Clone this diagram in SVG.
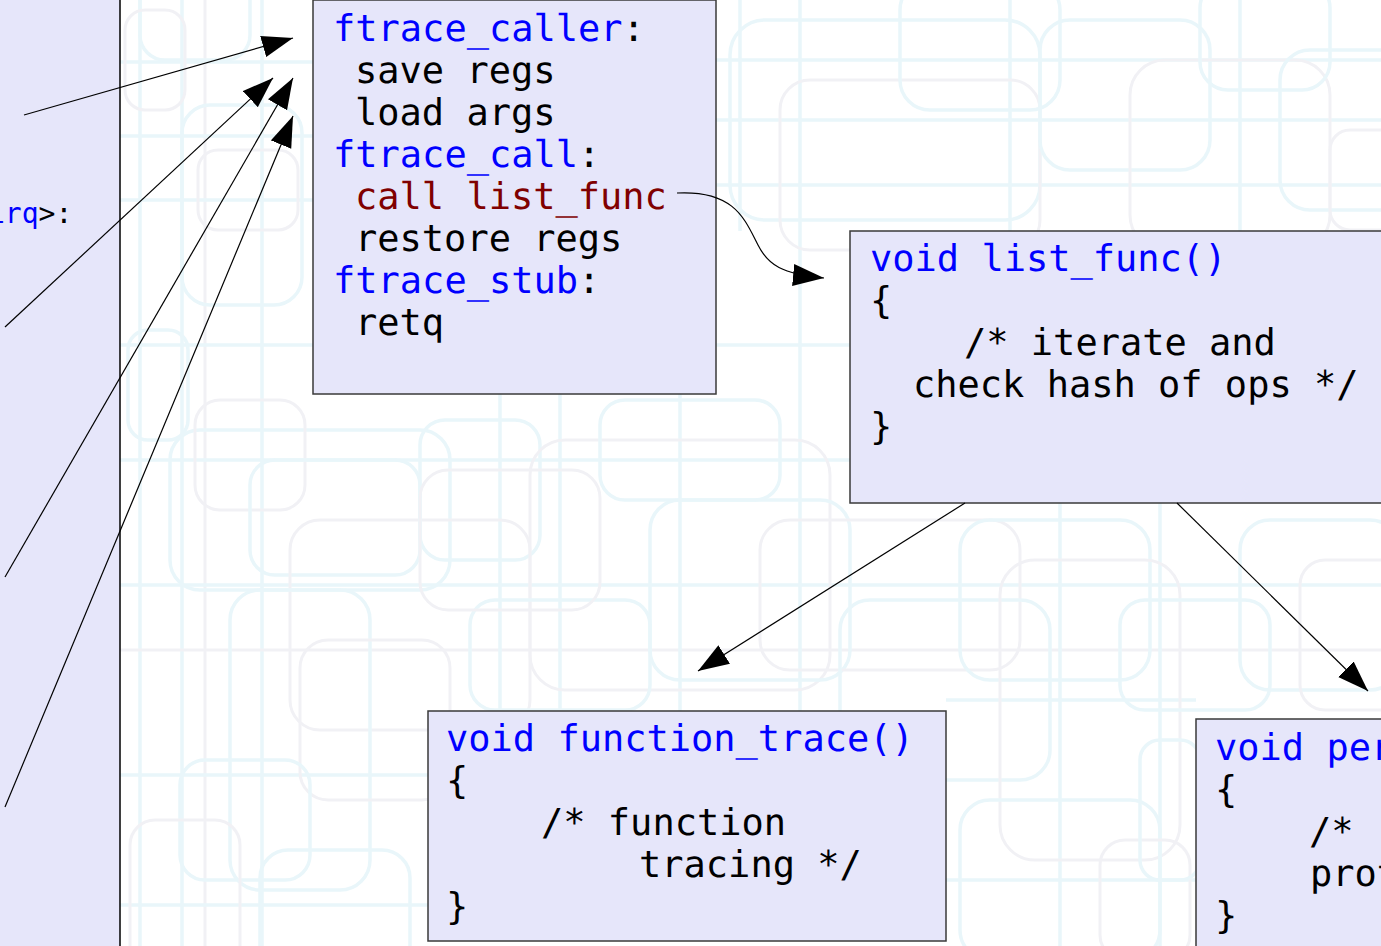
<svg xmlns="http://www.w3.org/2000/svg" width="1381" height="946" viewBox="0 0 1381 946">
  <style>
    .code { font-family: "DejaVu Sans Mono", "Liberation Mono", monospace; font-size: 37px; fill: #000; text-rendering: geometricPrecision; }
    .kw { fill: #0000ff; }
    .red { fill: #800000; }
    .box { fill: #e6e6fa; stroke: #3a3a3a; stroke-width: 1.5; }
    .bgc { fill: none; stroke: #e9f6fa; stroke-width: 3.5; }
    .bgg { fill: none; stroke: #f1f1f5; stroke-width: 3; }
    .conn { fill: none; stroke: #000; stroke-width: 1.2; }
  </style>
  <defs>
    <marker id="ah" markerUnits="userSpaceOnUse" markerWidth="32" markerHeight="24" refX="31" refY="11" orient="auto">
      <path d="M0,0 L31,11 L0,22 z" fill="#000"/>
    </marker>
  </defs>

  <rect x="0" y="0" width="1381" height="946" fill="#ffffff"/>

  <g id="background">
    <line class="bgc" x1="140" y1="0" x2="140" y2="946"/>
    <line class="bgc" x1="182" y1="0" x2="182" y2="946"/>
    <line class="bgg" x1="205" y1="0" x2="205" y2="946"/>
    <line class="bgc" x1="262" y1="0" x2="262" y2="946"/>
    <line class="bgc" x1="120" y1="62" x2="320" y2="62"/>
    <line class="bgc" x1="120" y1="136" x2="320" y2="136"/>
    <line class="bgc" x1="120" y1="200" x2="320" y2="200"/>
    <line class="bgc" x1="120" y1="345" x2="1381" y2="345"/>
    <line class="bgc" x1="120" y1="460" x2="1381" y2="460"/>
    <line class="bgc" x1="120" y1="585" x2="1381" y2="585"/>
    <line class="bgc" x1="120" y1="775" x2="440" y2="775"/>
    <line class="bgc" x1="120" y1="905" x2="440" y2="905"/>
    <line class="bgg" x1="120" y1="650" x2="1381" y2="650"/>
    <line class="bgc" x1="500" y1="394" x2="500" y2="711"/>
    <line class="bgc" x1="560" y1="394" x2="560" y2="711"/>
    <line class="bgc" x1="680" y1="394" x2="680" y2="711"/>
    <line class="bgc" x1="740" y1="0" x2="740" y2="231"/>
    <line class="bgc" x1="800" y1="0" x2="800" y2="711"/>
    <line class="bgc" x1="716" y1="60" x2="1381" y2="60"/>
    <line class="bgc" x1="716" y1="120" x2="1381" y2="120"/>
    <line class="bgc" x1="716" y1="185" x2="1381" y2="185"/>
    <line class="bgc" x1="1010" y1="0" x2="1010" y2="231"/>
    <line class="bgc" x1="1240" y1="0" x2="1240" y2="231"/>
    <line class="bgc" x1="1160" y1="503" x2="1160" y2="946"/>
    <line class="bgc" x1="946" y1="700" x2="1196" y2="700"/>
    <line class="bgc" x1="946" y1="880" x2="1196" y2="880"/>
    <line class="bgc" x1="1060" y1="503" x2="1060" y2="946"/>
    <rect class="bgc" x="140" y="-30" width="110" height="90" rx="25"/>
    <rect class="bgg" x="125" y="10" width="60" height="100" rx="20"/>
    <rect class="bgc" x="182" y="105" width="120" height="200" rx="28"/>
    <rect class="bgg" x="198" y="150" width="100" height="80" rx="20"/>
    <rect class="bgc" x="128" y="330" width="60" height="110" rx="20"/>
    <rect class="bgc" x="170" y="430" width="280" height="160" rx="30"/>
    <rect class="bgg" x="195" y="400" width="110" height="110" rx="25"/>
    <rect class="bgc" x="250" y="460" width="170" height="115" rx="25"/>
    <rect class="bgg" x="290" y="520" width="240" height="210" rx="30"/>
    <rect class="bgc" x="230" y="590" width="140" height="300" rx="30"/>
    <rect class="bgg" x="300" y="640" width="150" height="160" rx="28"/>
    <rect class="bgc" x="180" y="760" width="130" height="120" rx="25"/>
    <rect class="bgg" x="130" y="820" width="110" height="160" rx="25"/>
    <rect class="bgc" x="260" y="850" width="150" height="140" rx="28"/>
    <rect class="bgc" x="420" y="420" width="120" height="140" rx="25"/>
    <rect class="bgg" x="530" y="440" width="300" height="250" rx="35"/>
    <rect class="bgc" x="650" y="500" width="200" height="180" rx="30"/>
    <rect class="bgc" x="470" y="600" width="180" height="110" rx="25"/>
    <rect class="bgg" x="760" y="520" width="260" height="150" rx="30"/>
    <rect class="bgc" x="840" y="600" width="210" height="180" rx="30"/>
    <rect class="bgc" x="960" y="520" width="190" height="160" rx="30"/>
    <rect class="bgg" x="1000" y="560" width="180" height="300" rx="35"/>
    <rect class="bgc" x="1120" y="600" width="150" height="110" rx="25"/>
    <rect class="bgc" x="1240" y="520" width="160" height="170" rx="30"/>
    <rect class="bgg" x="1300" y="560" width="120" height="150" rx="25"/>
    <rect class="bgc" x="960" y="800" width="200" height="160" rx="30"/>
    <rect class="bgg" x="1100" y="840" width="90" height="120" rx="25"/>
    <rect class="bgc" x="1140" y="740" width="60" height="140" rx="20"/>
    <rect class="bgc" x="730" y="20" width="310" height="200" rx="35"/>
    <rect class="bgg" x="780" y="80" width="260" height="170" rx="30"/>
    <rect class="bgc" x="900" y="-20" width="160" height="130" rx="30"/>
    <rect class="bgc" x="1040" y="20" width="170" height="150" rx="30"/>
    <rect class="bgg" x="1130" y="60" width="200" height="190" rx="35"/>
    <rect class="bgc" x="1200" y="-20" width="130" height="110" rx="28"/>
    <rect class="bgc" x="1280" y="50" width="140" height="160" rx="30"/>
    <rect class="bgg" x="1330" y="130" width="90" height="100" rx="20"/>
    <rect class="bgc" x="600" y="400" width="180" height="100" rx="25"/>
    <rect class="bgg" x="420" y="470" width="180" height="140" rx="28"/>
  </g>

  <g id="node-irq">
    <rect x="-2" y="-2" width="122" height="950" fill="#e6e6fa" stroke="#000" stroke-width="1.5"/>
    <text x="-12" y="223" style="font-family:'DejaVu Sans Mono','Liberation Mono',monospace;font-size:28px"><tspan fill="#0000ff">irq</tspan><tspan fill="#000">&gt;:</tspan></text>
  </g>

  <g id="node-ftrace-caller">
    <rect class="box" x="313" y="0" width="403" height="394"/>
    <text class="code" x="333" y="41"><tspan class="kw">ftrace_caller</tspan>:</text>
    <text class="code" x="355" y="83">save regs</text>
    <text class="code" x="355" y="125">load args</text>
    <text class="code" x="333" y="167"><tspan class="kw">ftrace_call</tspan>:</text>
    <text class="code red" x="355" y="209">call list_func</text>
    <text class="code" x="355" y="251">restore regs</text>
    <text class="code" x="333" y="293"><tspan class="kw">ftrace_stub</tspan>:</text>
    <text class="code" x="355" y="335">retq</text>
  </g>

  <g id="node-list-func">
    <rect class="box" x="850" y="231" width="560" height="272"/>
    <text class="code kw" x="870" y="271">void list_func()</text>
    <text class="code" x="870" y="313">{</text>
    <text class="code" x="964" y="355">/* iterate and</text>
    <text class="code" x="913" y="397">check hash of ops */</text>
    <text class="code" x="870" y="439">}</text>
  </g>

  <g id="node-function-trace">
    <rect class="box" x="428" y="711" width="518" height="230"/>
    <text class="code kw" x="446" y="751">void function_trace()</text>
    <text class="code" x="446" y="793">{</text>
    <text class="code" x="541" y="835">/* function</text>
    <text class="code" x="639" y="877">tracing */</text>
    <text class="code" x="446" y="919">}</text>
  </g>

  <g id="node-perf">
    <rect class="box" x="1196" y="719" width="220" height="240"/>
    <text class="code kw" x="1215" y="760">void per</text>
    <text class="code" x="1215" y="802">{</text>
    <text class="code" x="1309" y="844">/*</text>
    <text class="code" x="1310" y="886">prot</text>
    <text class="code" x="1215" y="928">}</text>
  </g>

  <g id="connectors">
    <line class="conn" x1="24" y1="115" x2="293" y2="38" marker-end="url(#ah)"/>
    <line class="conn" x1="5" y1="327" x2="273" y2="78" marker-end="url(#ah)"/>
    <line class="conn" x1="5" y1="577" x2="293" y2="78" marker-end="url(#ah)"/>
    <line class="conn" x1="5" y1="807" x2="293" y2="116" marker-end="url(#ah)"/>
    <path class="conn" d="M677,193 C735,190 745,220 758,245 C768,265 782,274 824,278" marker-end="url(#ah)"/>
    <line class="conn" x1="965" y1="503" x2="698" y2="671" marker-end="url(#ah)"/>
    <line class="conn" x1="1177" y1="503" x2="1368" y2="691" marker-end="url(#ah)"/>
  </g>
</svg>
